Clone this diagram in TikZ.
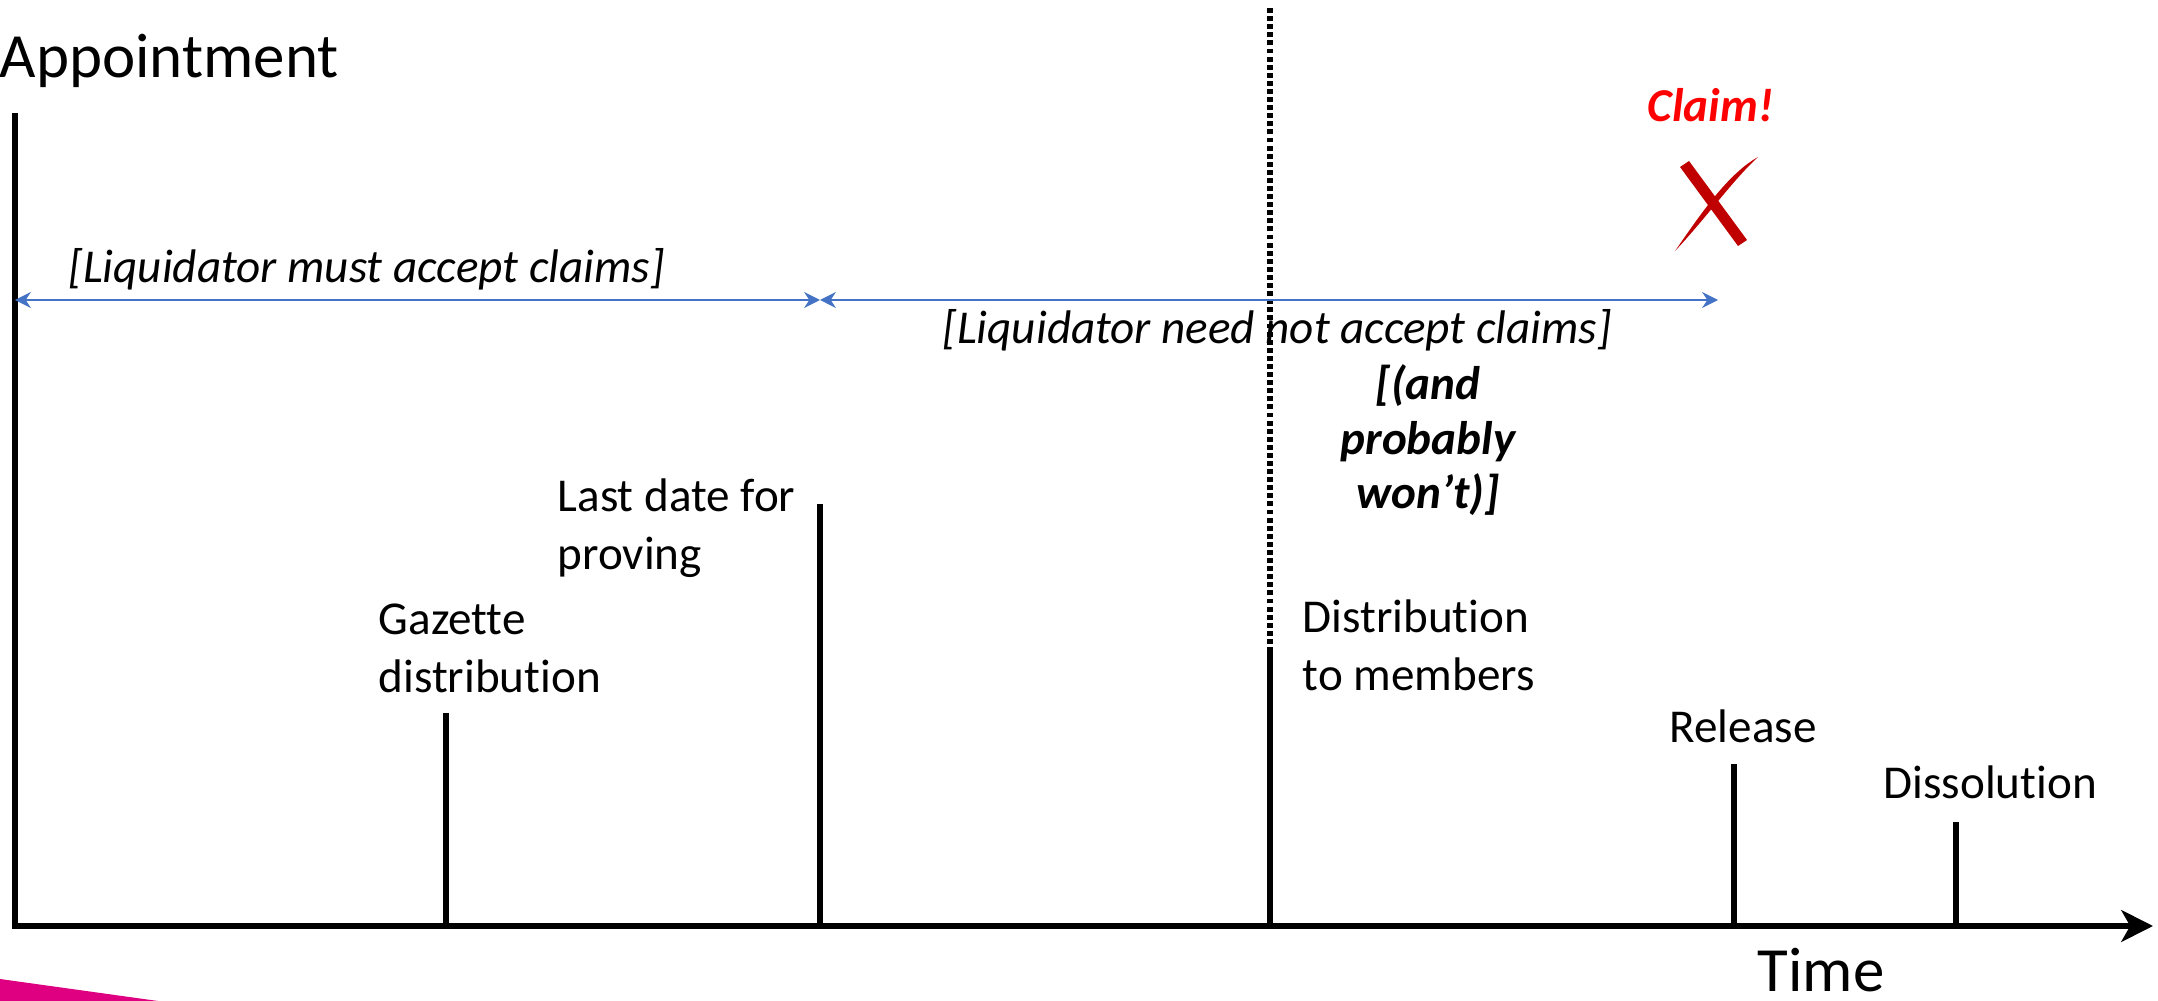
\documentclass[tikz,border=0pt]{standalone}
\usepackage{fontspec}
\setmainfont{Carlito}[Ligatures=NoCommon]
\usetikzlibrary{arrows.meta}
\definecolor{spanblue}{RGB}{68,114,196}
\definecolor{crossred}{RGB}{192,0,0}
\definecolor{wedge}{RGB}{222,0,128}

\begin{document}
\begin{tikzpicture}[x=0.01cm,y=-0.01cm,
  tick/.style={line width=1.7pt},
  lbl/.style={anchor=base west,inner sep=0pt,align=left,font=\fontsize{13.4}{16.75}\selectfont},
  big/.style={anchor=base west,inner sep=0pt,font=\fontsize{17.9}{21}\selectfont},
  span/.style={spanblue,line width=0.6pt,{Stealth[length=4.5pt,width=4.5pt]}-{Stealth[length=4.5pt,width=4.5pt]}},
  note/.style={inner sep=0pt,font=\fontsize{13.4}{15.6}\selectfont\itshape}]
\useasboundingbox (0,0) rectangle (2158,1001);

% corner wedge
\fill[wedge] (0,979) -- (158,1001) -- (0,1001) -- cycle;

% axes
\coordinate (appt) at (15,113);
\coordinate (origin) at (15,926);
\coordinate (tend) at (2153,926);
\draw[tick,-{Stealth[length=9pt,width=9pt,inset=2.5pt]}] (appt) -- (origin) -- (tend);

% events
\foreach \name/\x/\top in {gaz/446/713, last/820/504, dist/1270/652, rel/1734/764, diss/1956/822}{
  \coordinate (\name) at (\x,\top);
  \draw[tick] (\name) -- (\name |- origin);
}
\coordinate (cut) at (1270,7);
\draw[line width=1.8pt,dash pattern=on 1.4pt off 0.9pt] (dist) -- (cut);

\node[big] (appttext) at (-1,78) {Appointment};
\node[big] (timetext) at (1757,991) {Time};
\node[lbl] (gaztext) at (378,693) {Gazette\\distribution};
\node[lbl] (lasttext) at (557,570) {Last date for\\proving};
\node[lbl] (disttext) at (1302,691) {Distribution\\to members};
\node[lbl] (reltext) at (1669,743) {Release};
\node[lbl] (disstext) at (1883,798) {Dissolution};

% periods
\coordinate (s0) at (15,300);
\coordinate (s1) at (last |- s0);
\coordinate (s2) at (1718,300);
\draw[span] (s0) -- (s1);
\draw[span] (s1) -- (s2);
\node[note,anchor=base west] (must) at (68,283) {[Liquidator must accept claims]};
\node[note,anchor=base west] (neednot) at (942,344) {[Liquidator need not accept claims]};
\node[note,font=\fontsize{13.4}{15.6}\selectfont\bfseries\itshape,align=center,anchor=base] (wont) at (1428,509) {[(and\\probably\\won’t)]};

% the late claim
\node[note,font=\fontsize{13.4}{16.3}\selectfont\bfseries\itshape,text=red,anchor=base west] (claim) at (1647,122) {Claim!};
\fill[crossred] (1680,167) -- (1689,161) -- (1747,240) -- (1738,246) -- cycle;
\fill[crossred] (1758,157) .. controls (1728,174) and (1702,212) .. (1675,251)
  .. controls (1707,217) and (1732,181) .. cycle;
\end{tikzpicture}
\end{document}
